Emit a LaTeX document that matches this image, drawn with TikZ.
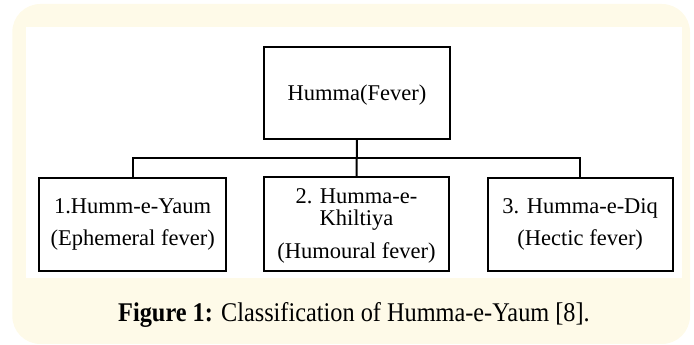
\documentclass[tikz,border=0pt]{standalone}
\usepackage{fontspec}
\setmainfont{Liberation Serif}
\definecolor{cream}{RGB}{254,250,232}
\begin{document}
\begin{tikzpicture}[x=1pt,y=1pt,
  box/.style={draw=black,line width=2pt,fill=white,inner sep=0pt,align=center,
    font=\fontsize{22.5}{32}\selectfont},
  conn/.style={draw=black,line width=2pt}]
\useasboundingbox (0,0) rectangle (694,345);
% frame
\fill[cream,rounded corners=28pt] (12.3,1) rectangle (690,341);
\fill[white] (26,67) rectangle (681.7,318);
% boxes
\node[box,minimum width=186pt,minimum height=92.3pt] (top) at (357,252.2) {};
\node[font=\fontsize{22.5}{32}\selectfont] (toptxt) at (357,250) {Humma(Fever)};
\node[box,minimum width=186.7pt,minimum height=92.7pt] (b1) at (132.65,120.65) {1.Humm-e-Yaum\\(Ephemeral fever)};
\node[box,minimum width=185pt,minimum height=93.7pt] (b2) at (356.5,121.15) {};
\node[font=\fontsize{22.5}{32}\selectfont,align=center,inner sep=0pt] (b2txt) at (356.5,119.5) {2. Humma-e-\\[-10pt]Khiltiya\\[1pt](Humoural fever)};
\node[box,minimum width=185pt,minimum height=92.7pt] (b3) at (580.2,120.65) {3. Humma-e-Diq\\(Hectic fever)};
% connectors
\coordinate (bus) at (357,186.7);
\draw[conn] (top.south) -- (b2.north);
\draw[conn] (b1.north) |- (bus) -| (b3.north);
% caption
\node[inner sep=0pt,anchor=base] (cap) at (354,23.3) {\scalebox{0.9}[1]{\fontsize{27}{30}\selectfont\textbf{Figure 1:} Classification of Humma-e-Yaum [8].}};
\end{tikzpicture}
\end{document}
